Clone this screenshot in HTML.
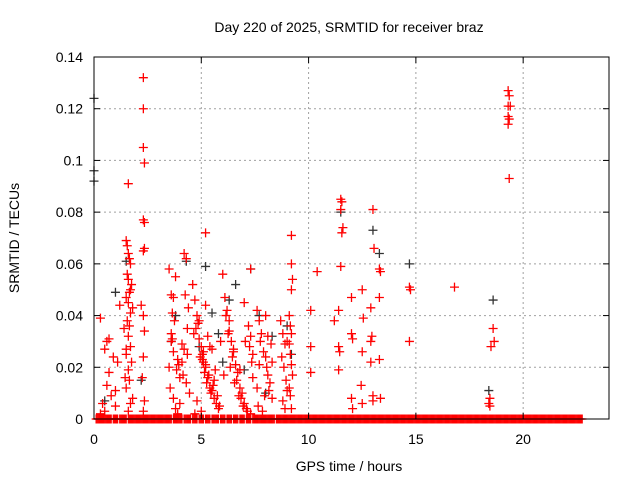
<!DOCTYPE html>
<html><head><meta charset="utf-8">
<style>
html,body{margin:0;padding:0;background:#fff;}
svg{display:block;font-family:"Liberation Sans",sans-serif;}
</style></head>
<body>
<svg id="chart" width="640" height="480" viewBox="0 0 640 480" xmlns="http://www.w3.org/2000/svg">
<rect width="640" height="480" fill="#fff"/>
<g id="grid"></g>
<g id="marks"></g>
<rect x="94" y="57" width="515" height="362" fill="none" stroke="#000" stroke-width="1"/>
<g id="ticks"></g>
<text x="349" y="32" font-size="14" text-anchor="middle">Day 220 of 2025, SRMTID for receiver braz</text>
<text x="349" y="471" font-size="14" text-anchor="middle">GPS time / hours</text>
<text transform="translate(19,238) rotate(-90)" font-size="14" text-anchor="middle">SRMTID / TECUs</text>
</svg>
<script>
const xTicks=[0,5,10,15,20];
const yTicks=[0,0.02,0.04,0.06,0.08,0.1,0.12,0.14];
const yTickLabels=["0","0.02","0.04","0.06","0.08","0.1","0.12","0.14"];
// red series (non-zero)
const redX=[2.3,2.3,2.3,2.35,2.3,2.35,2.35,2.3,1.6,5.2,5.2,19.3,19.35,19.3,19.4,19.3,19.35,19.3,19.35,
11.5,11.55,11.5,11.6,11.55,11.5,13.0,13.05,13.3,13.35,14.7,14.75,14.7,16.8,18.6,18.65,18.5,18.45,18.4,18.45,
10.4,10.1,10.1,10.1,11.2,11.4,11.4,11.45,11.4,12.0,12.0,12.05,12.0,12.05,12.5,12.55,12.5,12.45,12.5,12.9,12.95,12.9,12.9,13.0,13.0,13.3,13.3,13.35,
9.2,9.2,9.25,9.2,9.1,9.15,9.2,9.1,9.15,9.2,9.25,9.1,9.15,9.2,
0.3,0.5,0.6,0.7,0.6,0.9,1.0,1.1,0.4,0.8,1.2,0.5,0.7,0.3,1.0,
1.5,1.55,1.6,1.65,1.7,1.55,1.6,1.75,1.7,1.65,1.5,1.6,1.8,1.7,1.55,1.65,1.6,1.7,1.5,1.75,1.6,1.65,1.5,1.8,1.7,1.6,1.4,1.45,1.5,
2.2,2.3,2.35,2.3,2.25,2.35,2.3,
3.5,3.6,3.7,3.65,3.8,3.75,3.6,3.7,3.9,3.85,4.0,3.55,3.7,3.8,3.6,3.95,4.1,4.2,4.3,4.25,4.4,4.35,4.2,4.1,4.3,4.45,4.0,3.9,4.15,4.35,3.5,3.65,
4.6,4.7,4.8,4.75,4.9,5.0,5.1,5.05,5.2,5.15,5.3,5.25,5.4,5.5,5.45,5.6,5.7,5.65,5.8,5.9,4.65,4.85,4.95,5.1,5.35,5.55,5.75,5.85,4.7,5.0,5.2,5.3,5.5,4.8,5.6,5.05,4.9,5.4,
6.0,6.1,6.2,6.3,6.25,6.4,6.5,6.45,6.6,6.7,6.65,6.8,6.9,6.85,7.0,7.1,7.05,7.2,7.3,7.25,7.4,7.35,6.15,6.35,6.55,6.75,6.95,7.15,7.3,6.05,6.5,7.0,7.3,7.4,6.3,6.8,
7.6,7.7,7.8,7.75,7.9,8.0,8.05,8.1,8.2,8.15,8.3,7.65,7.85,8.0,8.25,7.7,8.1,7.95,8.3,7.6,
8.7,8.8,8.9,8.75,8.85,8.95,9.0,8.8,8.9,9.0];
const redY=[0.132,0.120,0.105,0.099,0.077,0.076,0.066,0.065,0.091,0.072,0.044,0.127,0.125,0.121,0.121,0.117,0.116,0.114,0.093,
0.085,0.084,0.081,0.074,0.072,0.059,0.081,0.066,0.058,0.057,0.051,0.050,0.030,0.051,0.035,0.030,0.028,0.008,0.006,0.005,
0.057,0.042,0.028,0.018,0.038,0.042,0.028,0.026,0.019,0.047,0.033,0.031,0.008,0.004,0.050,0.039,0.026,0.013,0.006,0.043,0.032,0.030,0.022,0.009,0.007,0.047,0.023,0.008,
0.071,0.060,0.054,0.050,0.040,0.036,0.033,0.029,0.025,0.021,0.017,0.012,0.009,0.004,
0.039,0.027,0.030,0.018,0.013,0.024,0.011,0.022,0.006,0.009,0.044,0.003,0.031,0.002,0.005,
0.069,0.067,0.064,0.062,0.060,0.056,0.054,0.052,0.050,0.049,0.047,0.045,0.043,0.041,0.038,0.036,0.032,0.028,0.025,0.022,0.019,0.015,0.012,0.008,0.006,0.003,0.035,0.016,0.027,
0.044,0.040,0.034,0.024,0.016,0.007,0.003,
0.058,0.048,0.047,0.041,0.055,0.038,0.030,0.026,0.023,0.019,0.016,0.012,0.008,0.004,0.033,0.021,0.029,0.064,0.062,0.048,0.043,0.035,0.027,0.022,0.014,0.010,0.006,0.002,0.017,0.025,0.020,0.031,
0.052,0.046,0.040,0.035,0.031,0.028,0.026,0.023,0.021,0.018,0.016,0.014,0.012,0.027,0.010,0.008,0.006,0.019,0.004,0.030,0.033,0.037,0.024,0.022,0.017,0.013,0.009,0.005,0.002,0.003,0.020,0.032,0.011,0.007,0.015,0.025,0.038,0.028,
0.056,0.047,0.042,0.038,0.033,0.030,0.027,0.024,0.021,0.018,0.015,0.012,0.010,0.008,0.006,0.004,0.030,0.036,0.032,0.028,0.025,0.022,0.040,0.020,0.014,0.009,0.005,0.003,0.002,0.017,0.026,0.045,0.058,0.016,0.034,0.019,
0.042,0.038,0.033,0.030,0.026,0.024,0.020,0.017,0.014,0.011,0.008,0.005,0.003,0.040,0.029,0.021,0.032,0.009,0.022,0.012,
0.038,0.033,0.029,0.024,0.020,0.015,0.011,0.007,0.004,0.030];
// red points at zero (dense baseline)
const zeroX=[0.1,0.15,0.2,0.25,0.3,0.35,0.4,0.45,0.5,0.55,0.6,0.65,0.7,0.75,0.8,0.9,0.95,1.0,1.05,1.1,1.2,1.25,1.3,1.35,1.4,1.45,1.5,
1.6,1.65,1.7,1.75,1.8,1.85,1.9,1.95,2.0,2.05,2.1,2.15,2.2,2.25,2.3,2.35,2.4,2.45,2.5,2.55,2.6,2.65,2.7,2.75,2.8,2.85,2.9,2.95,3.0,
3.05,3.1,3.15,3.2,3.25,3.3,3.35,3.4,3.45,3.5,3.55,3.6,3.7,3.75,3.8,3.85,3.9,3.95,4.0,4.05,4.1,4.2,4.25,4.3,4.35,4.4,4.45,4.5,
4.6,4.65,4.7,4.75,4.8,4.9,4.95,5.0,5.05,5.1,5.2,5.25,5.3,5.35,5.4,5.5,5.55,5.6,5.65,5.7,5.75,5.8,5.9,5.95,6.0,6.05,6.1,6.2,6.25,6.3,
6.35,6.4,6.5,6.55,6.6,6.65,6.7,6.8,6.85,6.9,6.95,7.0,7.1,7.15,7.2,7.25,7.3,7.4,7.45,7.5,7.55,7.6,7.65,7.7,7.75,7.8,7.85,7.9,7.95,8.0,
8.05,8.1,8.15,8.2,8.25,8.3,8.35,8.4,8.5,8.55,8.6,8.65,8.7,8.75,8.8,8.85,8.9,8.95,9.0,9.05,9.1,9.15,9.2,9.25,9.3,9.35,9.4,9.45,9.5,
9.55,9.6,9.65,9.7,9.75,9.8,9.85,9.9,9.95,10.0,10.05,10.1,10.15,10.2,10.25,10.3,10.35,10.4,10.45,10.5,10.55,10.6,10.65,10.7,10.75,10.8,
10.85,10.9,10.95,11.0,11.05,11.1,11.15,11.2,11.25,11.3,11.35,11.4,11.45,11.5,11.55,11.6,11.65,11.7,11.75,11.8,11.85,11.9,11.95,12.0,
12.05,12.1,12.15,12.2,12.25,12.3,12.35,12.4,12.45,12.5,12.55,12.6,12.65,12.7,12.75,12.8,12.85,12.9,12.95,13.0,13.05,13.1,13.15,13.2,
13.25,13.3,13.35,13.4,13.45,13.5,13.55,13.6,13.65,13.7,13.75,13.8,13.85,13.9,13.95,14.0,14.05,14.1,14.15,14.2,14.25,14.3,14.35,14.4,
14.45,14.5,14.55,14.6,14.65,14.7,14.75,14.8,14.85,14.9,14.95,15.0,15.05,15.1,15.15,15.2,15.25,15.3,15.35,15.4,15.45,15.5,15.55,15.6,
15.65,15.7,15.75,15.8,15.85,15.9,15.95,16.0,16.05,16.1,16.15,16.2,16.25,16.3,16.35,16.4,16.45,16.5,16.55,16.6,16.65,16.7,16.75,16.8,
16.85,16.9,16.95,17.0,17.05,17.1,17.15,17.2,17.25,17.3,17.35,17.4,17.45,17.5,17.55,17.6,17.65,17.7,17.75,17.8,17.85,17.9,17.95,18.0,
18.05,18.1,18.15,18.2,18.25,18.3,18.35,18.4,18.45,18.5,18.55,18.6,18.65,18.7,18.75,18.8,18.85,18.9,18.95,19.0,19.05,19.1,19.15,19.2,
19.25,19.3,19.35,19.4,19.45,19.5,19.55,19.6,19.65,19.7,19.75,19.8,19.85,19.9,19.95,20.0,20.05,20.1,20.15,20.2,20.25,20.3,20.35,20.4,
20.45,20.5,20.55,20.6,20.65,20.7,20.75,20.8,20.85,20.9,20.95,21.0,21.05,21.1,21.15,21.2,21.25,21.3,21.35,21.4,21.45,21.5,21.55,21.6,
21.65,21.7,21.75,21.8,21.85,21.9,21.95,22.0,22.05,22.1,22.15,22.2,22.25,22.3,22.35,22.4,22.45,22.5,22.55,22.6,22.65,22.7,22.75];
// black series
const blackX=[0,0,0,13.0,13.3,14.7,18.6,18.4,11.5,1.0,1.5,3.6,3.8,4.3,5.2,5.5,6.3,6.6,7.3,7.7,8.3,9.0,9.2,0.5,2.2,4.9,6.0,7.0,8.0,5.8];
const blackY=[0.124,0.096,0.092,0.073,0.064,0.060,0.046,0.011,0.080,0.049,0.061,0.030,0.040,0.061,0.059,0.041,0.046,0.052,0.058,0.040,0.032,0.036,0.025,0.007,0.015,0.028,0.022,0.019,0.010,0.033];

const NS="http://www.w3.org/2000/svg";
const L=94,R=609,T=57,B=419,XMAX=24,YMAX=0.14;
function xs(v){return L+v/XMAX*(R-L);}
function ys(v){return B-v/YMAX*(B-T);}
function mk(tag,attrs,parent){const e=document.createElementNS(NS,tag);for(const k in attrs)e.setAttribute(k,attrs[k]);parent.appendChild(e);return e;}
const grid=document.getElementById('grid'),ticks=document.getElementById('ticks'),marks=document.getElementById('marks');
xTicks.forEach(t=>{const x=xs(t);
  if(t>0){const g=mk('line',{x1:x,x2:x,y1:T,y2:B,stroke:'#a0a0a0','stroke-dasharray':'2,3'},grid);
  
  }
  mk('line',{x1:x,x2:x,y1:B,y2:B-6,stroke:'#000'},ticks);
  mk('line',{x1:x,x2:x,y1:T,y2:T+6,stroke:'#000'},ticks);
  const tx=mk('text',{x:x,y:B+25,'font-size':14,'text-anchor':'middle'},ticks);tx.textContent=t;
  
  
});
yTicks.forEach((t,i)=>{const y=ys(t);
  if(t>0&&t<YMAX){const g=mk('line',{x1:L,x2:R,y1:y,y2:y,stroke:'#a0a0a0','stroke-dasharray':'2,3'},grid);
  
  }
  mk('line',{x1:L,x2:L+6,y1:y,y2:y,stroke:'#000'},ticks);
  mk('line',{x1:R,x2:R-6,y1:y,y2:y,stroke:'#000'},ticks);
  const tx=mk('text',{x:83,y:y+5,'font-size':14,'text-anchor':'end'},ticks);tx.textContent=yTickLabels[i];
  
  
});
function plus(x,y,col,name){const p=mk('path',{d:`M${x-4.5},${y}h9M${x},${y-4.5}v9`,stroke:col,'stroke-width':1.3,fill:'none'},marks);
  
  }
blackX.forEach((v,i)=>plus(xs(v),ys(blackY[i]),'#333','black-point'));
zeroX.forEach(v=>plus(xs(v),ys(0),'#ff0000','zero-point'));
redX.forEach((v,i)=>plus(xs(v),ys(redY[i]),'#ff0000','red-point'));
</script>
</body></html>
